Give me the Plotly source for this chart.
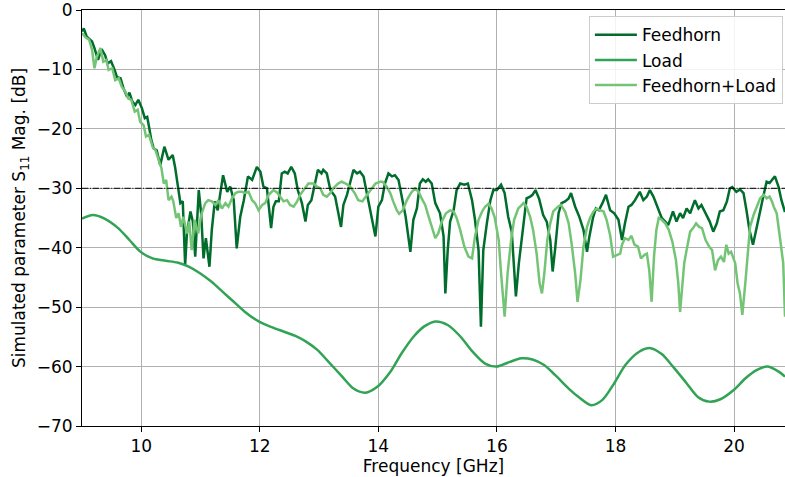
import plotly.graph_objects as go

# Simulated return loss S11 [dB] versus frequency [GHz]

feedhorn_f = [9.00, 9.03, 9.08, 9.17, 9.21, 9.27, 9.33, 9.39, 9.43, 9.49, 9.55, 9.59, 9.65, 9.70,
              9.76, 9.80, 9.85, 9.90, 9.95, 10.01, 10.06, 10.10, 10.13, 10.17, 10.21, 10.26, 10.32,
              10.39, 10.46, 10.53, 10.57, 10.62, 10.66, 10.70, 10.74, 10.77, 10.83, 10.87, 10.91,
              10.97, 11.01, 11.05, 11.09, 11.15, 11.19, 11.24, 11.29, 11.38, 11.45, 11.50, 11.56,
              11.61, 11.67, 11.73, 11.80, 11.87, 11.95, 12.01, 12.06, 12.12, 12.19, 12.23, 12.27,
              12.32, 12.37, 12.42, 12.47, 12.53, 12.59, 12.64, 12.71, 12.77, 12.81, 12.87, 12.92,
              12.98, 13.04, 13.07, 13.13, 13.19, 13.27, 13.33, 13.37, 13.41, 13.47, 13.52, 13.58,
              13.64, 13.69, 13.75, 13.83, 13.89, 13.95, 14.00, 14.06, 14.11, 14.17, 14.23, 14.28,
              14.34, 14.40, 14.46, 14.54, 14.59, 14.65, 14.70, 14.75, 14.80, 14.84, 14.90, 14.96,
              15.04, 15.10, 15.13, 15.17, 15.21, 15.27, 15.32, 15.38, 15.45, 15.51, 15.58, 15.63,
              15.69, 15.73, 15.77, 15.83, 15.89, 15.94, 16.00, 16.07, 16.13, 16.19, 16.25, 16.32,
              16.37, 16.45, 16.50, 16.56, 16.60, 16.65, 16.71, 16.78, 16.84, 16.90, 16.94, 16.98,
              17.04, 17.09, 17.15, 17.21, 17.25, 17.32, 17.39, 17.46, 17.52, 17.56, 17.62, 17.67,
              17.72, 17.78, 17.84, 17.91, 17.98, 18.05, 18.11, 18.16, 18.22, 18.27, 18.33, 18.41,
              18.47, 18.53, 18.58, 18.64, 18.70, 18.78, 18.84, 18.89, 18.97, 19.03, 19.09, 19.14,
              19.20, 19.26, 19.34, 19.40, 19.45, 19.51, 19.59, 19.65, 19.71, 19.76, 19.82, 19.88,
              19.93, 19.97, 20.04, 20.10, 20.16, 20.21, 20.26, 20.32, 20.37, 20.44, 20.50, 20.55,
              20.60, 20.64, 20.69, 20.75, 20.80, 20.86]
feedhorn_db = [-3.6, -3.1, -4.5, -5.3, -6.4, -8.4, -6.6, -7.6, -9.0, -8.6, -10.1, -11.3, -11.5, -13.2,
               -14.6, -13.9, -15.4, -16.0, -15.1, -16.5, -18.2, -18.0, -19.6, -21.9, -23.3, -23.6, -26.1,
               -23.0, -25.2, -24.4, -26.4, -29.7, -32.5, -32.2, -42.9, -37.6, -33.9, -35.6, -41.5,
               -30.3, -34.2, -41.8, -38.4, -43.2, -37.0, -32.2, -33.7, -27.8, -30.6, -29.7, -32.0,
               -40.1, -34.8, -32.0, -28.0, -28.6, -26.4, -27.2, -29.7, -30.0, -36.7, -33.1, -32.2,
               -32.2, -27.5, -27.2, -27.5, -26.4, -27.5, -30.3, -32.5, -35.6, -32.8, -32.0, -29.7,
               -26.9, -27.5, -26.9, -27.5, -30.3, -31.4, -34.2, -36.5, -32.8, -31.1, -29.2, -26.9,
               -27.5, -27.2, -28.0, -32.0, -34.8, -38.1, -33.1, -32.0, -29.2, -27.5, -28.0, -27.8,
               -28.6, -32.0, -34.8, -40.7, -35.3, -33.4, -29.2, -28.5, -28.9, -28.5, -29.2, -32.5,
               -34.2, -38.1, -47.7, -40.4, -35.6, -33.7, -30.3, -29.2, -29.4, -29.2, -32.0, -35.3,
               -40.4, -53.3, -40.4, -35.9, -32.0, -30.3, -30.3, -29.4, -30.8, -34.8, -37.3, -48.2,
               -42.6, -35.9, -31.7, -31.4, -31.1, -30.3, -31.7, -34.5, -35.6, -38.7, -44.0, -40.4,
               -34.2, -32.5, -32.2, -31.7, -30.8, -33.1, -34.8, -37.0, -40.7, -38.1, -35.0, -33.4,
               -33.7, -32.5, -31.1, -33.7, -34.2, -35.3, -38.7, -35.9, -33.1, -32.8, -32.0, -30.6,
               -32.0, -31.4, -30.3, -31.4, -33.1, -35.0, -35.6, -36.2, -33.9, -35.6, -34.2, -35.0,
               -33.4, -34.2, -32.0, -33.4, -32.8, -33.9, -35.6, -37.3, -35.9, -33.9, -33.7, -32.2,
               -30.0, -29.8, -30.6, -30.2, -30.8, -33.7, -37.0, -39.5, -37.0, -33.7, -31.1, -28.9,
               -29.1, -28.6, -28.0, -29.7, -32.0, -34.0]

load_f = [9.00, 9.18, 9.38, 9.61, 9.80, 9.99, 10.19, 10.41, 10.61, 10.80, 10.99, 11.18, 11.37, 11.56,
          11.75, 11.98, 12.21, 12.40, 12.59, 12.78, 12.97, 13.16, 13.39, 13.58, 13.78, 13.97, 14.20,
          14.39, 14.60, 14.78, 14.96, 15.17, 15.38, 15.59, 15.80, 15.99, 16.22, 16.41, 16.60, 16.79,
          16.98, 17.21, 17.40, 17.59, 17.78, 17.98, 18.17, 18.40, 18.59, 18.78, 18.97, 19.20, 19.39,
          19.58, 19.77, 20.00, 20.19, 20.38, 20.57, 20.76, 20.86]
load_db = [-35.1, -34.5, -35.1, -36.7, -38.7, -40.7, -41.8, -42.2, -42.5, -43.2, -44.3, -45.7, -47.4,
           -49.1, -50.8, -52.4, -53.4, -54.1, -54.8, -55.8, -57.2, -59.2, -61.7, -63.7, -64.4, -63.5,
           -60.9, -57.8, -54.9, -53.2, -52.4, -53.0, -54.9, -57.5, -59.5, -60.0, -59.2, -58.6, -58.8,
           -59.7, -61.4, -63.7, -65.3, -66.5, -65.6, -62.8, -59.7, -57.5, -56.9, -57.9, -60.0, -62.8,
           -65.1, -65.9, -65.5, -63.9, -62.0, -60.6, -60.0, -60.9, -61.7]

combined_f = [9.00, 9.06, 9.12, 9.17, 9.21, 9.25, 9.31, 9.36, 9.41, 9.45, 9.51, 9.56, 9.62, 9.67,
              9.73, 9.78, 9.83, 9.89, 9.94, 9.98, 10.04, 10.08, 10.13, 10.19, 10.24, 10.29, 10.34,
              10.38, 10.42, 10.46, 10.51, 10.54, 10.59, 10.63, 10.67, 10.71, 10.77, 10.81, 10.85,
              10.90, 10.96, 11.01, 11.08, 11.13, 11.19, 11.25, 11.30, 11.36, 11.42, 11.47, 11.53,
              11.59, 11.64, 11.70, 11.75, 11.81, 11.87, 11.92, 11.98, 12.04, 12.09, 12.15, 12.23,
              12.29, 12.34, 12.40, 12.46, 12.51, 12.57, 12.63, 12.68, 12.74, 12.82, 12.91, 12.96,
              13.02, 13.07, 13.13, 13.19, 13.24, 13.32, 13.38, 13.45, 13.52, 13.60, 13.66, 13.73,
              13.81, 13.88, 13.95, 14.03, 14.07, 14.14, 14.20, 14.25, 14.31, 14.35, 14.41, 14.48,
              14.55, 14.62, 14.68, 14.73, 14.79, 14.84, 14.90, 14.96, 15.01, 15.07, 15.14, 15.21,
              15.27, 15.32, 15.38, 15.45, 15.52, 15.58, 15.63, 15.69, 15.75, 15.80, 15.86, 15.91,
              15.96, 16.03, 16.07, 16.13, 16.18, 16.24, 16.29, 16.36, 16.45, 16.50, 16.56, 16.61,
              16.67, 16.72, 16.76, 16.80, 16.85, 16.90, 16.95, 17.03, 17.08, 17.15, 17.21, 17.26,
              17.32, 17.36, 17.41, 17.46, 17.52, 17.57, 17.63, 17.68, 17.74, 17.80, 17.85, 17.91,
              17.96, 18.02, 18.08, 18.11, 18.16, 18.22, 18.27, 18.32, 18.38, 18.43, 18.49, 18.53,
              18.57, 18.61, 18.65, 18.69, 18.73, 18.78, 18.84, 18.90, 18.96, 19.02, 19.06, 19.09,
              19.12, 19.16, 19.20, 19.26, 19.31, 19.36, 19.41, 19.46, 19.52, 19.58, 19.63, 19.68,
              19.73, 19.78, 19.83, 19.87, 19.91, 19.95, 20.02, 20.06, 20.10, 20.14, 20.19, 20.23,
              20.27, 20.33, 20.39, 20.44, 20.50, 20.55, 20.60, 20.64, 20.67, 20.72, 20.78, 20.83,
              20.86]
combined_db = [-3.9, -4.6, -5.0, -6.7, -9.8, -7.9, -6.4, -8.7, -8.4, -10.1, -9.8, -11.8, -11.5, -12.9,
               -13.7, -14.9, -15.1, -17.1, -16.8, -18.8, -19.4, -21.3, -21.0, -23.0, -23.6, -25.2, -26.6,
               -29.2, -28.6, -32.0, -31.4, -32.2, -35.0, -34.2, -36.5, -34.8, -37.6, -35.6, -40.4,
               -35.3, -37.6, -34.5, -32.5, -32.0, -32.2, -32.8, -32.0, -33.4, -32.5, -33.1, -31.7,
               -30.8, -30.6, -30.6, -30.8, -30.6, -32.0, -32.5, -33.7, -32.8, -32.5, -31.1, -30.3,
               -30.7, -31.4, -32.2, -32.0, -32.8, -33.1, -32.2, -31.1, -30.3, -29.2, -29.2, -29.7,
               -30.0, -31.1, -31.4, -30.8, -30.0, -29.2, -28.9, -29.2, -29.7, -30.8, -32.0, -32.2,
               -31.1, -30.2, -29.2, -28.9, -28.9, -29.7, -30.8, -32.2, -33.7, -34.3, -33.7, -32.0,
               -30.8, -30.0, -30.6, -31.7, -32.8, -34.5, -36.5, -38.4, -37.6, -35.6, -34.2, -33.7,
               -33.9, -35.0, -37.0, -39.8, -41.5, -41.8, -38.1, -35.3, -33.9, -33.1, -32.6, -33.4,
               -34.8, -38.7, -44.3, -51.6, -44.3, -38.7, -35.3, -33.4, -32.5, -33.1, -34.8, -37.0,
               -41.0, -46.0, -47.7, -44.3, -38.7, -35.9, -33.9, -33.1, -32.8, -33.9, -35.9, -39.3,
               -44.3, -49.1, -45.4, -39.8, -36.5, -35.0, -33.9, -33.4, -33.7, -33.9, -35.3, -37.9,
               -41.5, -41.2, -41.0, -39.5, -38.4, -38.7, -38.0, -39.5, -39.8, -41.8, -41.2, -41.0,
               -43.8, -49.1, -41.5, -37.0, -35.0, -35.3, -35.9, -37.0, -39.0, -42.1, -46.0, -50.8,
               -46.6, -42.6, -40.4, -37.3, -36.7, -35.9, -36.5, -36.7, -38.7, -39.8, -40.4, -43.8,
               -42.1, -41.5, -42.4, -39.5, -41.0, -40.7, -42.6, -46.0, -47.7, -51.3, -46.0, -40.4,
               -36.5, -34.5, -33.1, -31.7, -31.1, -31.7, -31.4, -32.2, -33.1, -34.2, -38.7, -42.6,
               -51.6]

threshold_db = -30
x_ticks = [10, 12, 14, 16, 18, 20]
y_ticks = [0, -10, -20, -30, -40, -50, -60, -70]

FONT = "DejaVu Sans"
FS = 17
DARK, MID, LIGHT = "#006d2c", "#31a354", "#74c476"

fig = go.Figure()
fig.add_trace(go.Scatter(x=feedhorn_f, y=feedhorn_db, mode="lines", name="Feedhorn",
                         line=dict(color=DARK, width=2.5)))
fig.add_trace(go.Scatter(x=load_f, y=load_db, mode="lines", name="Load",
                         line=dict(color=MID, width=2.5, shape="spline", smoothing=0.8)))
fig.add_trace(go.Scatter(x=combined_f, y=combined_db, mode="lines", name="Feedhorn+Load",
                         line=dict(color=LIGHT, width=2.5)))

# -30 dB reference level
fig.add_shape(type="line", xref="paper", yref="y", x0=0, x1=1, y0=threshold_db, y1=threshold_db,
              line=dict(color="black", width=1, dash="6.4px,1.6px,1px,1.6px"), layer="above")

axis_common = dict(showgrid=True, gridcolor="#b0b0b0", gridwidth=1, zeroline=False,
                   showline=True, linecolor="black", linewidth=1, mirror=True,
                   ticks="outside", ticklen=5, tickwidth=1, tickcolor="black",
                   ticklabeloverflow="allow",
                   tickfont=dict(family=FONT, size=FS, color="black"))

fig.update_xaxes(range=[9, 20.86], tickvals=x_ticks, ticktext=[str(v) for v in x_ticks],
                 title=dict(text="Frequency [GHz]", font=dict(family=FONT, size=FS, color="black"),
                            standoff=2),
                 **axis_common)
fig.update_yaxes(range=[-70, 0], tickvals=y_ticks,
                 ticktext=[("\u2212" + str(-v)) if v < 0 else str(v) for v in y_ticks],
                 title=dict(text="Simulated parameter S<sub>11</sub> Mag. [dB]",
                            font=dict(family=FONT, size=FS, color="black"), standoff=6),
                 **axis_common)

fig.update_layout(
    width=785, height=477,
    margin=dict(l=82, r=0, t=10, b=51),
    plot_bgcolor="white", paper_bgcolor="white",
    font=dict(family=FONT, size=FS, color="black"),
    legend=dict(x=0.997, xanchor="right", y=0.985, yanchor="top",
                bgcolor="rgba(255,255,255,0.85)", bordercolor="#cccccc", borderwidth=1,
                tracegroupgap=0, itemwidth=42,
                font=dict(family=FONT, size=FS, color="black")),
    showlegend=True,
)

fig.write_html("out.html")
